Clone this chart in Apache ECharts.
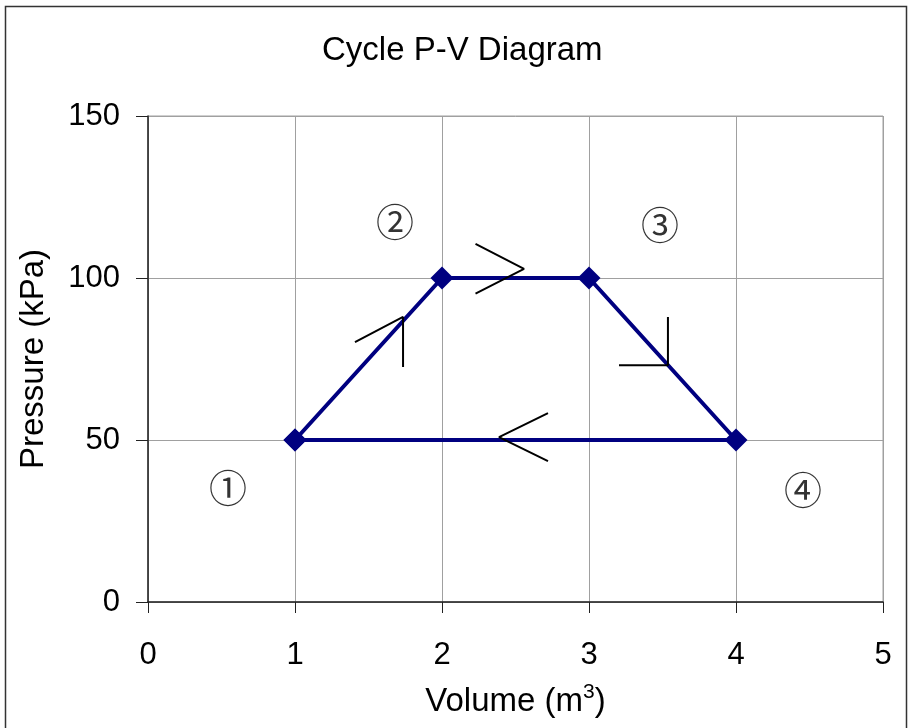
<!DOCTYPE html>
<html>
<head>
<meta charset="utf-8">
<title>Cycle P-V Diagram</title>
<script src="https://cdn.jsdelivr.net/npm/echarts@6/dist/echarts.min.js"></script>
<style>
  html, body { margin: 0; padding: 0; background: #fff; }
  #chart { width: 909px; height: 728px; }
</style>
</head>
<body>
<div id="chart"></div>
<script>
// cycle states (volume m3, pressure kPa), closed back to state 1
var volume = [1, 2, 3, 4, 1];
var pressure = [50, 100, 100, 50, 50];

// direction arrows (open chevrons) in data units
var arrowUp = [[1.408, 80.2], [1.735, 88.0], [1.735, 72.5]];
var arrowRight = [[2.228, 110.5], [2.558, 102.8], [2.228, 95.2]];
var arrowDown = [[3.537, 88.0], [3.537, 73.1], [3.204, 73.1]];
var arrowLeft = [[2.721, 58.3], [2.388, 50.9], [2.721, 43.5]];

// state numbers
var stateNames = ['①', '②', '③', '④'];
var stateX = [0.544, 1.68, 3.483, 4.456];
var stateY = [35.2, 117.3, 116.4, 34.6];

var xTicks = [0, 1, 2, 3, 4, 5];
var yTicks = [0, 50, 100, 150];

var font = 'Liberation Sans, Arial, sans-serif';

var cycle = volume.map(function (v, i) { return [v, pressure[i]]; });
var labels = stateNames.map(function (n, i) {
  return { name: n, value: [stateX[i], stateY[i]] };
});

function arrowSeries(pts) {
  return {
    type: 'line',
    data: pts,
    symbol: 'none',
    silent: true,
    z: 5,
    lineStyle: { color: '#000', width: 2 }
  };
}

var myChart = echarts.init(document.getElementById('chart'));
myChart.setOption({
  animation: false,
  backgroundColor: '#fff',
  title: {
    text: 'Cycle P-V Diagram',
    left: 317,
    top: 29,
    textStyle: { fontFamily: font, fontSize: 33, fontWeight: 'normal', color: '#000' }
  },
  graphic: [{
    type: 'rect',
    shape: { x: 5.5, y: 6.5, width: 901, height: 740 },
    style: { fill: 'none', stroke: '#333', lineWidth: 1.5 },
    silent: true
  }],
  grid: {
    left: 148, right: 26, top: 116, bottom: 126,
    show: true, borderColor: '#a0a0a0', borderWidth: 1
  },
  xAxis: {
    type: 'value',
    min: xTicks[0],
    max: xTicks[xTicks.length - 1],
    interval: 1,
    name: 'Volume (m{sup|3})',
    nameLocation: 'middle',
    nameGap: 80,
    nameTextStyle: {
      fontFamily: font, fontSize: 33, color: '#000',
      rich: { sup: { fontFamily: font, fontSize: 21, verticalAlign: 'bottom', padding: [0, 0, 19, 0] } }
    },
    axisLine: { lineStyle: { color: '#222', width: 1.5 } },
    axisTick: { length: 11, lineStyle: { color: '#222' } },
    axisLabel: { fontFamily: font, fontSize: 31, color: '#000', margin: 38 },
    splitLine: { lineStyle: { color: '#a0a0a0', width: 1 } }
  },
  yAxis: {
    type: 'value',
    min: yTicks[0],
    max: yTicks[yTicks.length - 1],
    interval: 50,
    name: 'Pressure (kPa)',
    nameLocation: 'middle',
    nameGap: 98,
    nameTextStyle: { fontFamily: font, fontSize: 33, color: '#000' },
    axisLine: { show: true, lineStyle: { color: '#222', width: 1.5 } },
    axisTick: { show: true, length: 12, lineStyle: { color: '#222' } },
    axisLabel: { fontFamily: font, fontSize: 31, color: '#000', margin: 28 },
    splitLine: { lineStyle: { color: '#a0a0a0', width: 1 } }
  },
  series: [
    {
      type: 'line',
      data: cycle,
      symbol: 'diamond',
      symbolSize: 23,
      z: 3,
      itemStyle: { color: '#000080' },
      lineStyle: { color: '#000080', width: 4 }
    },
    arrowSeries(arrowUp),
    arrowSeries(arrowRight),
    arrowSeries(arrowDown),
    arrowSeries(arrowLeft),
    {
      type: 'scatter',
      data: labels,
      symbolSize: 0,
      silent: true,
      label: {
        show: true,
        position: 'inside',
        formatter: '{b}',
        fontFamily: 'Noto Sans CJK SC, sans-serif',
        fontSize: 38,
        color: '#000'
      }
    }
  ]
});
</script>
</body>
</html>
